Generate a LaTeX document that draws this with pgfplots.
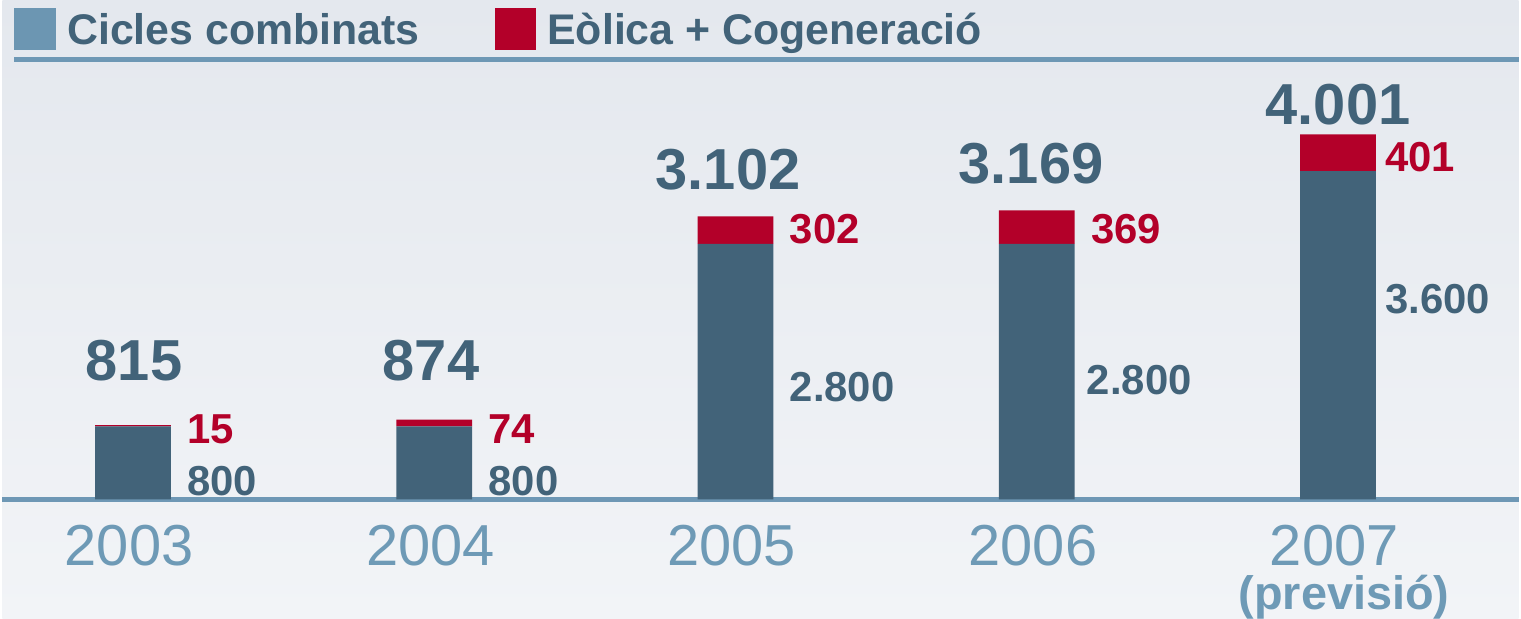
\documentclass[border=0pt]{standalone}
\usepackage{pgfplots}
\pgfplotsset{compat=1.18}
\usepackage{fontspec}
\setmainfont{Liberation Sans}
\definecolor{barblue}{HTML}{426379}
\definecolor{barred}{HTML}{B30029}
\definecolor{legblue}{HTML}{6C96B2}
\definecolor{yearblue}{HTML}{6E9AB6}
\definecolor{lineblue}{HTML}{6E98B5}
\definecolor{bgtop}{HTML}{E4E8EE}
\definecolor{bgbot}{HTML}{F2F4F7}
\tikzset{
  totlab/.style={anchor=base, inner sep=0pt, text=barblue, font=\fontsize{29pt}{32pt}\selectfont\bfseries},
  redlab/.style={anchor=base west, inner sep=0pt, text=barred, font=\fontsize{21pt}{24pt}\selectfont\bfseries},
  bluelab/.style={anchor=base west, inner sep=0pt, text=barblue, font=\fontsize{21pt}{24pt}\selectfont\bfseries},
  yearlab/.style={anchor=base, inner sep=0pt, text=yearblue, font=\fontsize{29pt}{32pt}\selectfont},
}
\begin{document}
\begin{tikzpicture}
\begin{axis}[
  scale only axis,
  width=760.5pt, height=310.5pt,
  xmin=-0.4334, xmax=4.599,
  ymin=-1311.5, ymax=5475.4,
  axis line style={draw=none},
  xtick=\empty, ytick=\empty,
  axis background/.style={top color=bgtop, bottom color=bgbot},
  clip=false,
  ybar stacked,
  bar width=0.2514,
  legend columns=2,
  legend style={at={(0,1)}, anchor=north west, xshift=6pt, yshift=-4pt,
    draw=none, fill=none, inner sep=0pt, outer sep=0pt,
    font=\fontsize{21.5pt}{24pt}\selectfont\bfseries,
    text=barblue,
    nodes={inner sep=0pt, anchor=base west},
    /tikz/every even column/.append style={column sep=37.5pt}},
]
\addplot[fill=barblue, draw=none,
  legend image code/.code={\fill[legblue] (0pt,-2.75pt) rectangle (21pt,18.25pt); \path (26.5pt,0pt);}]
  coordinates {(0,800) (1,800) (2,2800) (3,2800) (4,3600)};
\addlegendentry{Cicles combinats}
\addplot[fill=barred, draw=none,
  legend image code/.code={\fill[barred] (0pt,-2.75pt) rectangle (21pt,18.25pt); \path (26.5pt,0pt);}]
  coordinates {(0,15) (1,74) (2,302) (3,369) (4,401)};
\addlegendentry{Eòlica + Cogeneració}

\draw[lineblue, line width=2.5pt] (axis cs:-0.394,4825) -- (axis cs:4.599,4825);
\draw[lineblue, line width=2.5pt] (axis cs:-0.4334,0) -- (axis cs:4.599,0);

\node[totlab] at (axis cs:0.003,1300) {815};
\node[totlab] at (axis cs:0.989,1300) {874};
\node[totlab] at (axis cs:1.975,3400) {3.102};
\node[totlab] at (axis cs:2.981,3465) {3.169};
\node[totlab] at (axis cs:4.0,4110) {4.001};

\node[redlab] at (axis cs:0.1787,612) {15};
\node[redlab] at (axis cs:1.1787,612) {74};
\node[redlab] at (axis cs:2.1787,2800) {302};
\node[redlab] at (axis cs:3.1787,2800) {369};
\node[redlab] at (axis cs:4.1550,3600) {401};
\node[bluelab] at (axis cs:0.1787,44) {800};
\node[bluelab] at (axis cs:1.1787,44) {800};
\node[bluelab] at (axis cs:2.1787,1071) {2.800};
\node[bluelab] at (axis cs:3.1650,1148) {2.800};
\node[bluelab] at (axis cs:4.1550,2033) {3.600};

\node[yearlab] at (axis cs:-0.013,-721) {2003};
\node[yearlab] at (axis cs:0.987,-721) {2004};
\node[yearlab] at (axis cs:1.987,-721) {2005};
\node[yearlab] at (axis cs:2.987,-721) {2006};
\node[yearlab] at (axis cs:3.987,-721) {2007};
\node[overlay, anchor=base, inner sep=0pt, text=yearblue, font=\fontsize{23.5pt}{26pt}\selectfont\bfseries] at (axis cs:4.02,-1213) {(previsió)};
\end{axis}
\end{tikzpicture}
\end{document}
